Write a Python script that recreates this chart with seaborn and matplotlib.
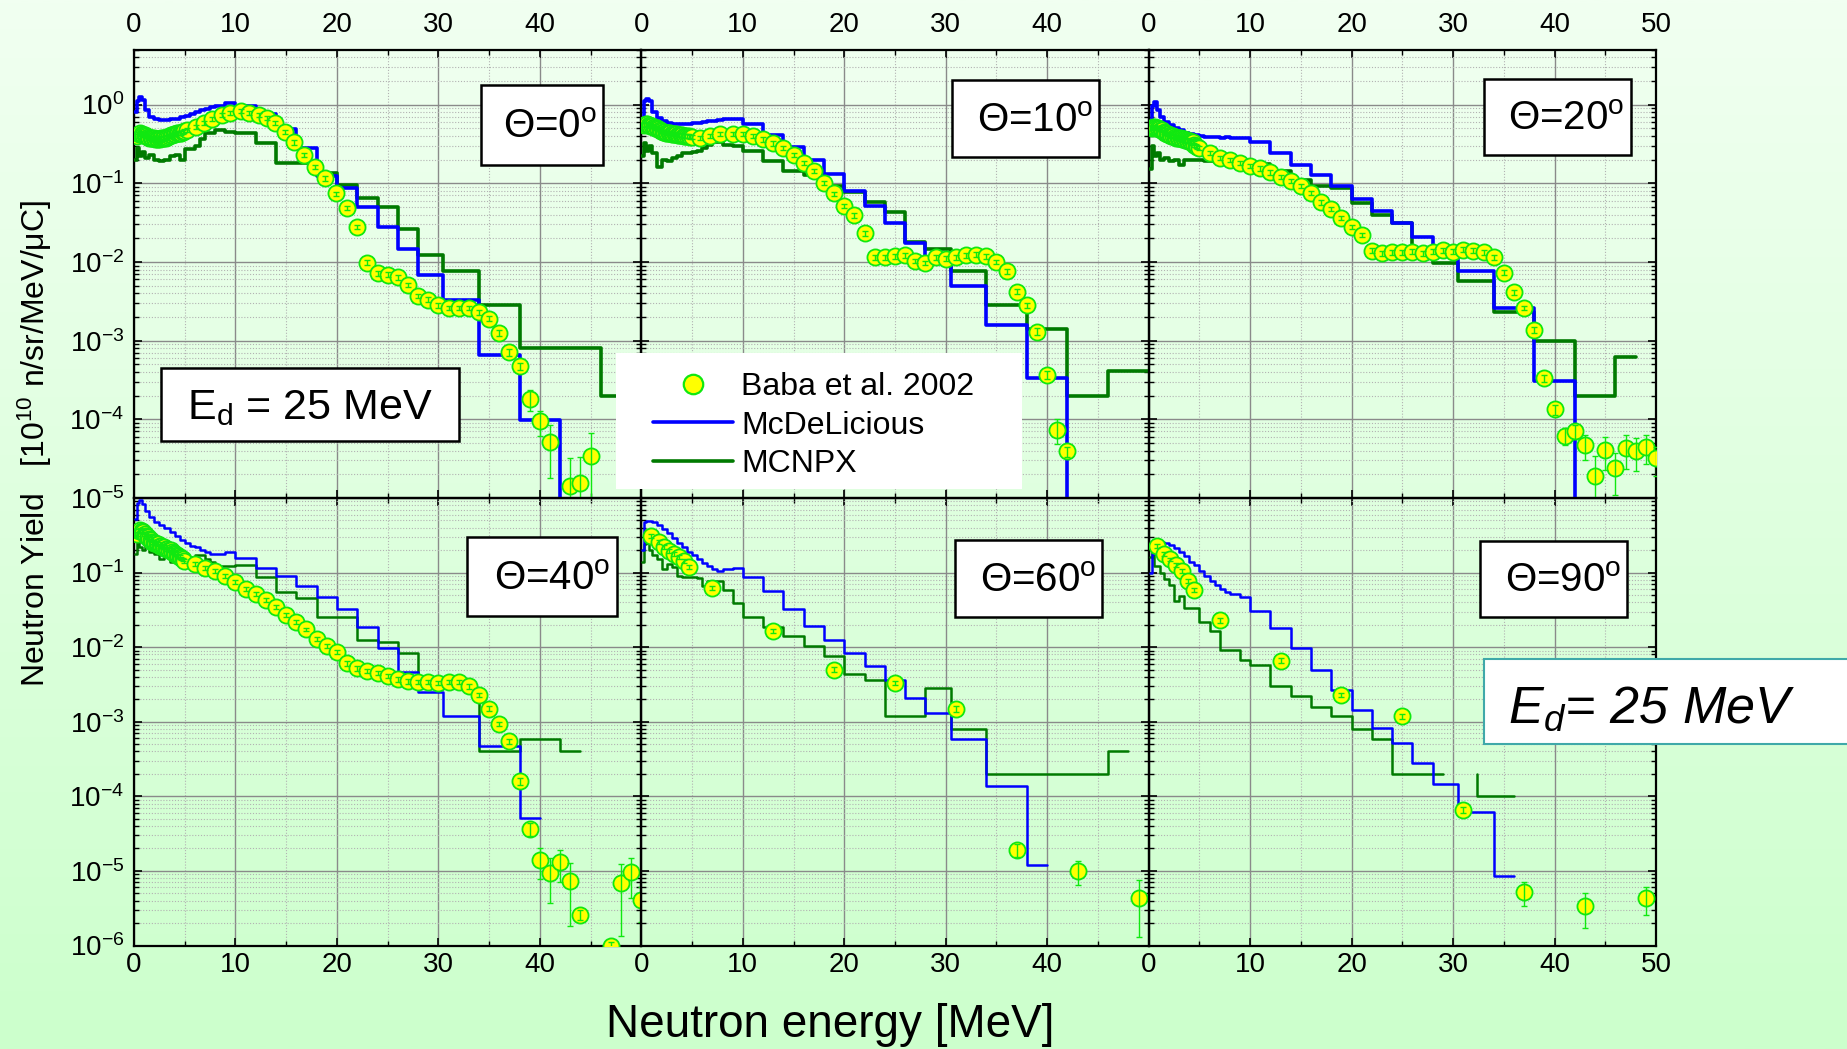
import numpy as np
import matplotlib
matplotlib.use("Agg")
import matplotlib.pyplot as plt
import seaborn as sns
from matplotlib.patches import Rectangle
from matplotlib.lines import Line2D
from matplotlib.colors import LinearSegmentedColormap
from matplotlib.ticker import MultipleLocator, LogLocator, FuncFormatter, NullFormatter

# ---------------------------------------------------------------- data
ANGLES = [0, 10, 20, 40, 60, 90]

# Monte-Carlo bin edges [MeV]
LOW_EDGES = [0.1, 0.3, 0.5, 0.8, 1.1, 1.5, 2.0, 2.5, 3.0, 3.5, 4.0, 4.5,
             5.0, 5.5, 6.0, 6.5, 7.0, 7.5, 8.0, 9.0, 10.0]
MID_EDGES = [12, 14, 16, 18, 20, 22, 24, 26, 28, 30.5, 34]

# McDeLicious spectra
MCD_0_EDGES = LOW_EDGES + MID_EDGES + [38, 42]
MCD_0 = [0.8, 1.1, 1.25, 1.15, 0.85, 0.7, 0.66, 0.64, 0.64, 0.65, 0.66, 0.7,
         0.72, 0.76, 0.8, 0.84, 0.88, 0.92, 0.96, 1.03,
         0.95, 0.75, 0.49, 0.28, 0.124, 0.087, 0.05, 0.028, 0.0145, 0.0068, 0.0033,
         6.5e-4, 9.7e-5]
MCD_1_EDGES = LOW_EDGES + MID_EDGES + [38, 42]
MCD_1 = [0.63, 1.1, 1.19, 1.1, 0.81, 0.68, 0.62, 0.58, 0.57, 0.56, 0.56, 0.57,
         0.58, 0.59, 0.6, 0.61, 0.62, 0.63, 0.65, 0.65,
         0.56, 0.41, 0.29, 0.2, 0.13, 0.08, 0.051, 0.031, 0.0175, 0.0108, 0.0049,
         0.0016, 3.3e-4]
MCD_2_EDGES = LOW_EDGES + MID_EDGES + [38, 42]
MCD_2 = [0.57, 0.95, 1.08, 0.85, 0.7, 0.6, 0.55, 0.5, 0.47, 0.44, 0.42, 0.41,
         0.4, 0.39, 0.39, 0.385, 0.38, 0.385, 0.38, 0.38,
         0.33, 0.24, 0.17, 0.128, 0.093, 0.063, 0.044, 0.031, 0.021, 0.0148, 0.0077,
         0.0026, 3.1e-4]
MCD_3_EDGES = LOW_EDGES + MID_EDGES + [38, 40]
MCD_3 = [0.52, 0.85, 0.95, 0.82, 0.66, 0.55, 0.48, 0.43, 0.39, 0.35, 0.31, 0.27,
         0.25, 0.23, 0.22, 0.2, 0.19, 0.18, 0.18, 0.19,
         0.158, 0.116, 0.089, 0.066, 0.047, 0.032, 0.0187, 0.0097, 0.0046, 0.0025, 0.0012,
         4.7e-4, 5.1e-5]
MCD_4_EDGES = LOW_EDGES + MID_EDGES + [38, 40]
MCD_4 = [0.2, 0.47, 0.49, 0.49, 0.48, 0.43, 0.38, 0.34, 0.29, 0.25, 0.22, 0.19,
         0.17, 0.15, 0.135, 0.122, 0.112, 0.106, 0.11, 0.114,
         0.088, 0.056, 0.032, 0.0195, 0.0126, 0.0084, 0.0056, 0.0036, 0.0021, 0.00131, 5.8e-4,
         1.37e-4, 1.2e-5]
MCD_5_EDGES = LOW_EDGES + MID_EDGES + [36]
MCD_5 = [0.1, 0.18, 0.21, 0.24, 0.26, 0.25, 0.235, 0.215, 0.19, 0.165, 0.14, 0.125,
         0.105, 0.09, 0.078, 0.068, 0.06, 0.055, 0.051, 0.047,
         0.031, 0.018, 0.0098, 0.005, 0.0027, 0.00145, 8.3e-4, 5.2e-4, 2.8e-4, 1.47e-4, 6.1e-5,
         8.5e-6]
# spectra whose last bin falls to zero
MCD_DROPS = [True, True, True, False, False, False]

# MCNPX spectra
MCN_0_EDGES = LOW_EDGES + MID_EDGES + [38, 46, 50]
MCN_0 = [0.2, 0.28, 0.22, 0.25, 0.21, 0.23, 0.2, 0.19, 0.2, 0.22, 0.23, 0.2,
         0.27, 0.27, 0.3, 0.36, 0.43, 0.43, 0.47, 0.45,
         0.44, 0.32, 0.178, 0.178, 0.133, 0.096, 0.065, 0.05, 0.026, 0.0122, 0.0077,
         0.0028, 8e-4, 2e-4]
MCN_1_EDGES = LOW_EDGES + MID_EDGES + [38, 42, 46, 50]
MCN_1 = [0.22, 0.32, 0.26, 0.3, 0.24, 0.16, 0.2, 0.19, 0.21, 0.22, 0.24, 0.24,
         0.25, 0.26, 0.28, 0.31, 0.335, 0.335, 0.31, 0.3,
         0.26, 0.19, 0.143, 0.128, 0.092, 0.078, 0.058, 0.043, 0.018, 0.0148, 0.0077,
         0.0028, 0.0014, 2.0e-4, 4.1e-4]
MCN_2_EDGES = LOW_EDGES + MID_EDGES + [38, 42, 46, 48]
MCN_2 = [0.15, 0.3, 0.22, 0.24, 0.2, 0.21, 0.19, 0.2, 0.17, 0.2, 0.2, 0.2,
         0.2, 0.19, 0.19, 0.185, 0.185, 0.18, 0.18, 0.18,
         0.174, 0.143, 0.11, 0.093, 0.087, 0.056, 0.04, 0.031, 0.0152, 0.0098, 0.0058,
         0.0023, 0.001, 2.0e-4, 6.2e-4]
MCN_3_EDGES = LOW_EDGES + MID_EDGES + [38, 42, 44]
MCN_3 = [0.18, 0.3, 0.22, 0.2, 0.23, 0.19, 0.18, 0.15, 0.17, 0.14, 0.165, 0.14,
         0.15, 0.16, 0.17, 0.17, 0.153, 0.14, 0.122, 0.122,
         0.126, 0.087, 0.055, 0.045, 0.025, 0.025, 0.0124, 0.0117, 0.0084, 0.0039, 0.0028,
         4.0e-4, 5.9e-4, 4.0e-4]
MCN_4_EDGES = LOW_EDGES + MID_EDGES + [46, 48]
MCN_4 = [0.137, 0.24, 0.25, 0.2, 0.17, 0.15, 0.11, 0.13, 0.118, 0.09, 0.088, 0.088,
         0.088, 0.085, 0.067, 0.078, 0.078, 0.078, 0.059, 0.039,
         0.0252, 0.0185, 0.0143, 0.0103, 0.0076, 0.0044, 0.0036, 0.00119, 0.00119, 0.0028, 7.9e-4,
         2.0e-4, 4.0e-4]
MCN_5_EDGES = LOW_EDGES + [12, 14, 16, 18, 20, 22, 24, 29]
MCN_5 = [0.16, 0.19, 0.124, 0.124, 0.1, 0.082, 0.069, 0.042, 0.049, 0.033, 0.034, 0.034,
         0.0216, 0.0216, 0.0167, 0.0167, 0.0092, 0.0092, 0.0092, 0.0068,
         0.0057, 0.003, 0.0022, 0.0016, 0.0012, 7.9e-4, 5.9e-4, 2.0e-4]
MCN_5B_EDGES = [32.4, 32.4, 36]
MCN_5B = [2.0e-4, 1.0e-4]

# Baba et al. 2002 measurements (energy, yield, relative error)
# finely spaced low-energy part of the forward-angle spectra
DENSE_E = [0.3, 0.45, 0.6, 0.75, 0.9, 1.05, 1.2, 1.35, 1.5, 1.65, 1.8, 1.95,
           2.1, 2.25, 2.4, 2.55, 2.7, 2.85, 3.0, 3.15, 3.3, 3.45, 3.6, 3.75,
           3.9, 4.05, 4.2, 4.35, 4.5, 4.65, 4.8, 4.95]
DENSE_ERR = [0.06, 0.06, 0.06, 0.06, 0.06, 0.06, 0.06, 0.06, 0.06, 0.06, 0.06, 0.06,
             0.06, 0.06, 0.06, 0.06, 0.06, 0.06, 0.06, 0.06, 0.06, 0.06, 0.06, 0.06,
             0.06, 0.06, 0.06, 0.06, 0.06, 0.06, 0.06, 0.06]
DENSE_0_Y = [0.40, 0.42, 0.43, 0.42, 0.41, 0.41, 0.40, 0.39, 0.38, 0.38, 0.37, 0.37,
             0.36, 0.36, 0.36, 0.36, 0.37, 0.37, 0.38, 0.38, 0.39, 0.40, 0.41, 0.41,
             0.42, 0.42, 0.43, 0.43, 0.44, 0.44, 0.45, 0.46]
DENSE_1_Y = [0.55, 0.56, 0.56, 0.55, 0.54, 0.53, 0.52, 0.51, 0.50, 0.49, 0.47, 0.46,
             0.45, 0.45, 0.44, 0.44, 0.43, 0.43, 0.42, 0.42, 0.42, 0.42, 0.41, 0.41,
             0.41, 0.41, 0.40, 0.40, 0.40, 0.40, 0.39, 0.39]
DENSE_2_Y = [0.50, 0.52, 0.52, 0.51, 0.50, 0.49, 0.48, 0.47, 0.45, 0.44, 0.42, 0.42,
             0.41, 0.40, 0.40, 0.39, 0.38, 0.38, 0.37, 0.37, 0.36, 0.36, 0.35, 0.35,
             0.34, 0.34, 0.33, 0.33, 0.31, 0.30, 0.29, 0.28]
DENSE_3_Y = [0.33, 0.36, 0.37, 0.36, 0.35, 0.33, 0.31, 0.30, 0.28, 0.27, 0.26, 0.25,
             0.25, 0.24, 0.24, 0.23, 0.23, 0.22, 0.22, 0.21, 0.21, 0.20, 0.20, 0.19,
             0.185, 0.18, 0.17, 0.165, 0.16, 0.155, 0.15, 0.145]

EXP_0_E = DENSE_E + [5.2, 6.1, 6.9, 7.7, 8.7, 9.5, 10.5, 11.3, 12.3, 13.1, 13.9, 14.9,
                     15.8, 16.8, 17.8, 18.8, 19.9, 21, 22, 23, 24, 25, 26, 27, 28, 29, 30,
                     31, 32, 33, 34, 35, 36, 37, 38, 39, 40, 41, 43, 44, 45]
EXP_0_Y = DENSE_0_Y + [0.47, 0.52, 0.58, 0.65, 0.73, 0.79, 0.82, 0.79, 0.74, 0.67, 0.58, 0.45,
                       0.33, 0.23, 0.16, 0.115, 0.074, 0.049, 0.028, 0.0098, 0.0072, 0.0069,
                       0.0064, 0.0051, 0.0037, 0.0033, 0.0028, 0.0026, 0.0026, 0.0026, 0.0023,
                       0.0019, 0.00125, 7.1e-4, 4.7e-4, 1.8e-4, 9.4e-5, 5.2e-5, 1.4e-5,
                       1.55e-5, 3.4e-5]
EXP_0_ERR = DENSE_ERR + [0.06, 0.06, 0.06, 0.06, 0.06, 0.06, 0.06, 0.06, 0.06, 0.06, 0.06, 0.06,
                         0.06, 0.06, 0.06, 0.06, 0.06, 0.06, 0.06, 0.07, 0.07, 0.07, 0.07,
                         0.07, 0.07, 0.07, 0.07, 0.07, 0.07, 0.07, 0.07, 0.07, 0.08,
                         0.1, 0.1, 0.3, 0.35, 0.65, 1.3, 1.15, 0.95]

EXP_1_E = DENSE_E + [5.8, 6.8, 7.8, 9, 10, 11, 12, 13, 14, 15, 16, 17, 18, 19, 20,
                     21, 22, 23, 24, 25, 26, 27, 28, 29, 30, 31, 32, 33, 34, 35,
                     36, 37, 38, 39, 40, 41, 42]
EXP_1_Y = DENSE_1_Y + [0.38, 0.40, 0.42, 0.42, 0.42, 0.40, 0.36, 0.32, 0.28, 0.23, 0.18, 0.142,
                       0.10, 0.074, 0.052, 0.039, 0.023, 0.0115, 0.0114, 0.0118, 0.0122,
                       0.0103, 0.0097, 0.0114, 0.011, 0.0114, 0.0122, 0.0124, 0.0118, 0.010,
                       0.0076, 0.0042, 0.0028, 0.0013, 3.7e-4, 7.4e-5, 3.9e-5]
EXP_1_ERR = DENSE_ERR + [0.06, 0.06, 0.06, 0.06, 0.06, 0.06, 0.06, 0.06, 0.06, 0.06, 0.06, 0.06,
                         0.06, 0.06, 0.06, 0.06, 0.07, 0.07, 0.07, 0.07, 0.07, 0.07, 0.07,
                         0.07, 0.07, 0.07, 0.07, 0.07, 0.07, 0.07, 0.07, 0.08, 0.08,
                         0.1, 0.12, 0.35, 0.15]

EXP_2_E = DENSE_E + [6, 7, 8, 9, 10, 11, 12, 13, 14, 15, 16, 17, 18, 19, 20,
                     21, 22, 23, 24, 25, 26, 27, 28, 29, 30, 31, 32, 33, 34, 35,
                     36, 37, 38, 39, 40, 41, 42, 43, 44, 45, 46, 47, 48, 49, 50]
EXP_2_Y = DENSE_2_Y + [0.24, 0.21, 0.20, 0.18, 0.165, 0.154, 0.137, 0.12, 0.108, 0.093,
                       0.075, 0.057, 0.047, 0.036, 0.0275, 0.0219, 0.0139, 0.0129, 0.0132,
                       0.0132, 0.0135, 0.0129, 0.0135, 0.0141, 0.0135, 0.0143, 0.0139, 0.0132,
                       0.0114, 0.0073, 0.0041, 0.0026, 0.00137, 3.3e-4, 1.34e-4, 6.2e-5,
                       7.0e-5, 4.7e-5, 1.9e-5, 4.1e-5, 2.4e-5, 4.3e-5, 4.0e-5, 4.5e-5, 3.2e-5]
EXP_2_ERR = DENSE_ERR + [0.06, 0.06, 0.06, 0.06, 0.06, 0.06, 0.06, 0.06, 0.06, 0.06,
                         0.06, 0.06, 0.06, 0.06, 0.06, 0.06, 0.07, 0.07, 0.07, 0.07,
                         0.07, 0.07, 0.07, 0.07, 0.07, 0.07, 0.07, 0.07, 0.07, 0.07,
                         0.07, 0.07, 0.08, 0.1, 0.15, 0.25, 0.2, 0.35, 0.8, 0.45,
                         0.55, 0.45, 0.45, 0.4, 0.4]

EXP_3_E = DENSE_E + [6, 7, 8, 9, 10, 11, 12, 13, 14, 15, 16, 17, 18, 19, 20,
                     21, 22, 23, 24, 25, 26, 27, 28, 29, 30, 31, 32, 33, 34, 35,
                     36, 37, 38, 39, 40, 41, 42, 43, 44, 47, 48, 49, 50]
EXP_3_Y = DENSE_3_Y + [0.132, 0.116, 0.106, 0.09, 0.074, 0.061, 0.052, 0.043, 0.035, 0.027,
                       0.0217, 0.0173, 0.0128, 0.0105, 0.0087, 0.0061, 0.0052, 0.0048, 0.0045,
                       0.0041, 0.0037, 0.0035, 0.0034, 0.0034, 0.0033, 0.0034, 0.0034, 0.0030,
                       0.0023, 0.0015, 9.4e-4, 5.5e-4, 1.6e-4, 3.7e-5, 1.4e-5, 9.3e-6, 1.3e-5,
                       7.4e-6, 2.6e-6, 9.8e-7, 6.8e-6, 9.6e-6, 4.1e-6]
EXP_3_ERR = DENSE_ERR + [0.06, 0.06, 0.06, 0.06, 0.06, 0.06, 0.06, 0.06, 0.06, 0.06,
                         0.06, 0.06, 0.06, 0.06, 0.06, 0.07, 0.07, 0.07, 0.07, 0.07,
                         0.07, 0.07, 0.07, 0.07, 0.07, 0.07, 0.07, 0.07, 0.07, 0.07,
                         0.07, 0.08, 0.1, 0.2, 0.45, 0.6, 0.45, 0.75, 0.15,
                         0.15, 0.8, 0.55, 0.5]

EXP_4_E = [1.0, 1.7, 2.2, 2.7, 3.2, 3.7, 4.2, 4.7, 7, 13, 19, 25, 31, 37, 43, 49]
EXP_4_Y = [0.31, 0.255, 0.218, 0.197, 0.178, 0.16, 0.145, 0.12, 0.062, 0.0164,
           0.005, 0.0033, 0.00149, 1.9e-5, 1.0e-5, 4.4e-6]
EXP_4_ERR = [0.06, 0.06, 0.06, 0.06, 0.06, 0.06, 0.06, 0.06, 0.07, 0.07,
             0.07, 0.07, 0.08, 0.2, 0.35, 0.7]

EXP_5_E = [0.8, 1.5, 2.1, 2.7, 3.3, 3.9, 4.5, 7, 13, 19, 25, 31, 37, 43, 49]
EXP_5_Y = [0.23, 0.18, 0.15, 0.128, 0.104, 0.078, 0.059, 0.0228, 0.0066, 0.0023,
           0.00118, 6.6e-5, 5.2e-6, 3.4e-6, 4.3e-6]
EXP_5_ERR = [0.06, 0.06, 0.06, 0.06, 0.06, 0.06, 0.06, 0.07, 0.07, 0.07,
             0.07, 0.1, 0.35, 0.5, 0.4]

MCD_EDGES = [MCD_0_EDGES, MCD_1_EDGES, MCD_2_EDGES, MCD_3_EDGES, MCD_4_EDGES, MCD_5_EDGES]
MCD_VALUES = [MCD_0, MCD_1, MCD_2, MCD_3, MCD_4, MCD_5]
MCN_EDGES = [MCN_0_EDGES, MCN_1_EDGES, MCN_2_EDGES, MCN_3_EDGES, MCN_4_EDGES, MCN_5_EDGES]
MCN_VALUES = [MCN_0, MCN_1, MCN_2, MCN_3, MCN_4, MCN_5]
EXP_E = [EXP_0_E, EXP_1_E, EXP_2_E, EXP_3_E, EXP_4_E, EXP_5_E]
EXP_Y = [EXP_0_Y, EXP_1_Y, EXP_2_Y, EXP_3_Y, EXP_4_Y, EXP_5_Y]
EXP_ERR = [EXP_0_ERR, EXP_1_ERR, EXP_2_ERR, EXP_3_ERR, EXP_4_ERR, EXP_5_ERR]

LEGEND_LABELS = ["Baba et al. 2002", "McDeLicious", "MCNPX"]

# ---------------------------------------------------------------- style
YELLOW = "#ffff00"
MARK_EDGE = "#10e810"
BLUE = "#0000ff"
DKGREEN = "#007a00"
BG_TOP = "#f1fff1"
BG_BOTTOM = "#ccffcc"

sns.set_theme(style="ticks")
plt.rcParams.update({
    "mathtext.fontset": "custom",
    "mathtext.rm": "Liberation Sans",
    "mathtext.it": "Liberation Sans:italic",
    "mathtext.bf": "Liberation Sans:bold",
    "mathtext.sf": "Liberation Sans",
    "axes.edgecolor": "black",
    "text.color": "black",
    "xtick.color": "black",
    "ytick.color": "black",
})
plt.rcParams["font.family"] = ["Liberation Sans", "DejaVu Sans"]

W, H = 1847, 1049
fig = plt.figure(figsize=(W / 100, H / 100), dpi=100)

# vertical background gradient
bg = fig.add_axes([0, 0, 1, 1], zorder=-10)
bg_cmap = LinearSegmentedColormap.from_list("bg", [BG_TOP, BG_BOTTOM])
bg.imshow(np.linspace(0, 1, 512)[:, None], aspect="auto", cmap=bg_cmap,
          extent=[0, 1, 0, 1], origin="upper")
bg.axis("off")

# panel geometry (pixels)
X0, X1 = 134.0, 1656.0
ROW_Y = [(49.5, 498.0), (498.0, 945.5)]
PW = (X1 - X0) / 3
YLIMS = [(1e-5, 5.0), (1e-6, 1.0)]


def step_xy(edges, values, drop=False):
    assert len(edges) == len(values) + 1
    return list(edges), list(values) + [0.0 if drop else values[-1]]


def px_rect(x0, y0, x1, y1, **kw):
    return Rectangle((x0 / W, 1 - y1 / H), (x1 - x0) / W, (y1 - y0) / H,
                     transform=fig.transFigure, **kw)


for i, ang in enumerate(ANGLES):
    r, c = divmod(i, 3)
    top, bot = ROW_Y[r]
    ax = fig.add_axes([(X0 + c * PW) / W, 1 - bot / H, PW / W, (bot - top) / H])
    ax.set_facecolor("none")
    lw = 2.6 if r == 0 else 1.8

    xs, ys = step_xy(MCN_EDGES[i], MCN_VALUES[i])
    sns.lineplot(x=xs, y=ys, ax=ax, drawstyle="steps-post", estimator=None,
                 sort=False, color=DKGREEN, linewidth=lw, zorder=3)
    if i == 5:
        xs, ys = step_xy(MCN_5B_EDGES, MCN_5B)
        sns.lineplot(x=xs, y=ys, ax=ax, drawstyle="steps-post", estimator=None,
                     sort=False, color=DKGREEN, linewidth=lw, zorder=3)
    xs, ys = step_xy(MCD_EDGES[i], MCD_VALUES[i], MCD_DROPS[i])
    sns.lineplot(x=xs, y=ys, ax=ax, drawstyle="steps-post", estimator=None,
                 sort=False, color=BLUE, linewidth=lw, zorder=3)

    e = np.array(EXP_E[i], dtype=float)
    yv = np.array(EXP_Y[i], dtype=float)
    sns.scatterplot(x=e, y=yv, ax=ax, s=135, color=YELLOW, edgecolor=MARK_EDGE,
                    linewidth=1.3, zorder=4, legend=False)
    ax.errorbar(e, yv, yerr=np.array(EXP_ERR[i]) * yv, fmt="none", ecolor=MARK_EDGE,
                elinewidth=1.0, capsize=2.0, capthick=1.0, zorder=5)

    ax.set_yscale("log")
    ax.set_xlim(0, 50)
    ax.set_ylim(*YLIMS[r])
    ax.set_xlabel("")
    ax.set_ylabel("")

    ax.xaxis.set_major_locator(MultipleLocator(10))
    ax.xaxis.set_minor_locator(MultipleLocator(5))
    ax.xaxis.set_major_formatter(FuncFormatter(
        lambda v, p, c=c: "" if (v > 49.5 and c < 2) else f"{v:.0f}"))
    ax.yaxis.set_major_locator(LogLocator(base=10, numticks=20))
    ax.yaxis.set_minor_locator(LogLocator(base=10, subs=np.arange(2, 10), numticks=20))
    ax.yaxis.set_minor_formatter(NullFormatter())
    ax.yaxis.set_major_formatter(FuncFormatter(
        lambda v, p, r=r: "" if (r == 1 and v > 0.5) else
        "10$^{%d}$" % int(round(np.log10(v)))))

    ax.tick_params(which="both", direction="in", top=True, bottom=True,
                   left=True, right=True, colors="black")
    ax.tick_params(which="major", length=6, width=1.2)
    ax.tick_params(which="minor", length=3.5, width=1.0)
    ax.tick_params(axis="x", labelsize=20, labeltop=(r == 0), labelbottom=(r == 1),
                   pad=(8 if r == 0 else 5))
    ax.tick_params(axis="y", labelsize=20, labelleft=(c == 0), labelright=False, pad=7)

    ax.set_axisbelow(True)
    ax.grid(True, which="major", color="#8a8a8a", linewidth=1.0, linestyle="-")
    ax.grid(True, which="minor", color="#b2b2b2", linewidth=0.8, linestyle=(0, (1, 1.6)))
    for sp in ax.spines.values():
        sp.set_color("black")
        sp.set_linewidth(1.6)
        sp.set_visible(True)

# angle labels
THETA_BOXES = [(480.6, 84.6, 603.1, 164.8), (952, 80, 1099.3, 157.3),
               (1484, 79, 1630.7, 155), (467, 537, 616.6, 616),
               (955, 540, 1102, 617.3), (1480, 540.7, 1627, 616.7)]
for ang, (bx0, by0, bx1, by1) in zip(ANGLES, THETA_BOXES):
    fig.add_artist(px_rect(bx0, by0, bx1, by1, facecolor="white", edgecolor="black",
                           linewidth=1.8, zorder=6))
    fig.text((bx1 - 6) / W, 1 - ((by0 + by1) / 2 + 2) / H,
             "Θ=%d$^{\\mathrm{o}}$" % ang, ha="right", va="center",
             fontsize=29, zorder=7)

# beam energy labels
fig.add_artist(px_rect(161.2, 368.2, 458.8, 441.1, facecolor="white",
                       edgecolor="black", linewidth=1.8, zorder=6))
fig.text(310 / W, 1 - 408 / H, "E$_{\\mathrm{d}}$ = 25 MeV", ha="center",
         va="center", fontsize=31, zorder=7)

fig.add_artist(px_rect(1484, 659, 1900, 744, facecolor="white",
                       edgecolor="#3fa9a9", linewidth=1.5, zorder=6))
fig.text(1508 / W, 1 - 722.7 / H, "E$_{\\mathit{d}}$= 25 MeV", ha="left",
         va="baseline", fontsize=37.5, fontstyle="italic", zorder=7)

# legend
fig.add_artist(px_rect(616, 353, 1022, 489, facecolor="white", edgecolor="none",
                       linewidth=0, zorder=6))
handles = [
    Line2D([], [], linestyle="none", marker="o", markersize=14,
           markerfacecolor=YELLOW, markeredgecolor=MARK_EDGE, markeredgewidth=1.6),
    Line2D([], [], color=BLUE, linewidth=2.6),
    Line2D([], [], color=DKGREEN, linewidth=2.6),
]
leg = fig.legend(handles, LEGEND_LABELS, loc="upper left",
                 bbox_to_anchor=(652.7 / W, 1 - 372 / H), frameon=False,
                 fontsize=23, handlelength=2.5, handletextpad=0.27,
                 labelspacing=0.27, borderpad=0, borderaxespad=0)
leg.set_zorder(7)

# axis titles
fig.text(35 / W, 1 - 443.5 / H, "Neutron Yield   [10$^{10}$ n/sr/MeV/μC]",
         rotation=90, ha="center", va="center", fontsize=23)
fig.text(830.5 / W, 1 - 1025 / H, "Neutron energy [MeV]", ha="center",
         va="center", fontsize=33)

fig.savefig("out.png", dpi=100)
